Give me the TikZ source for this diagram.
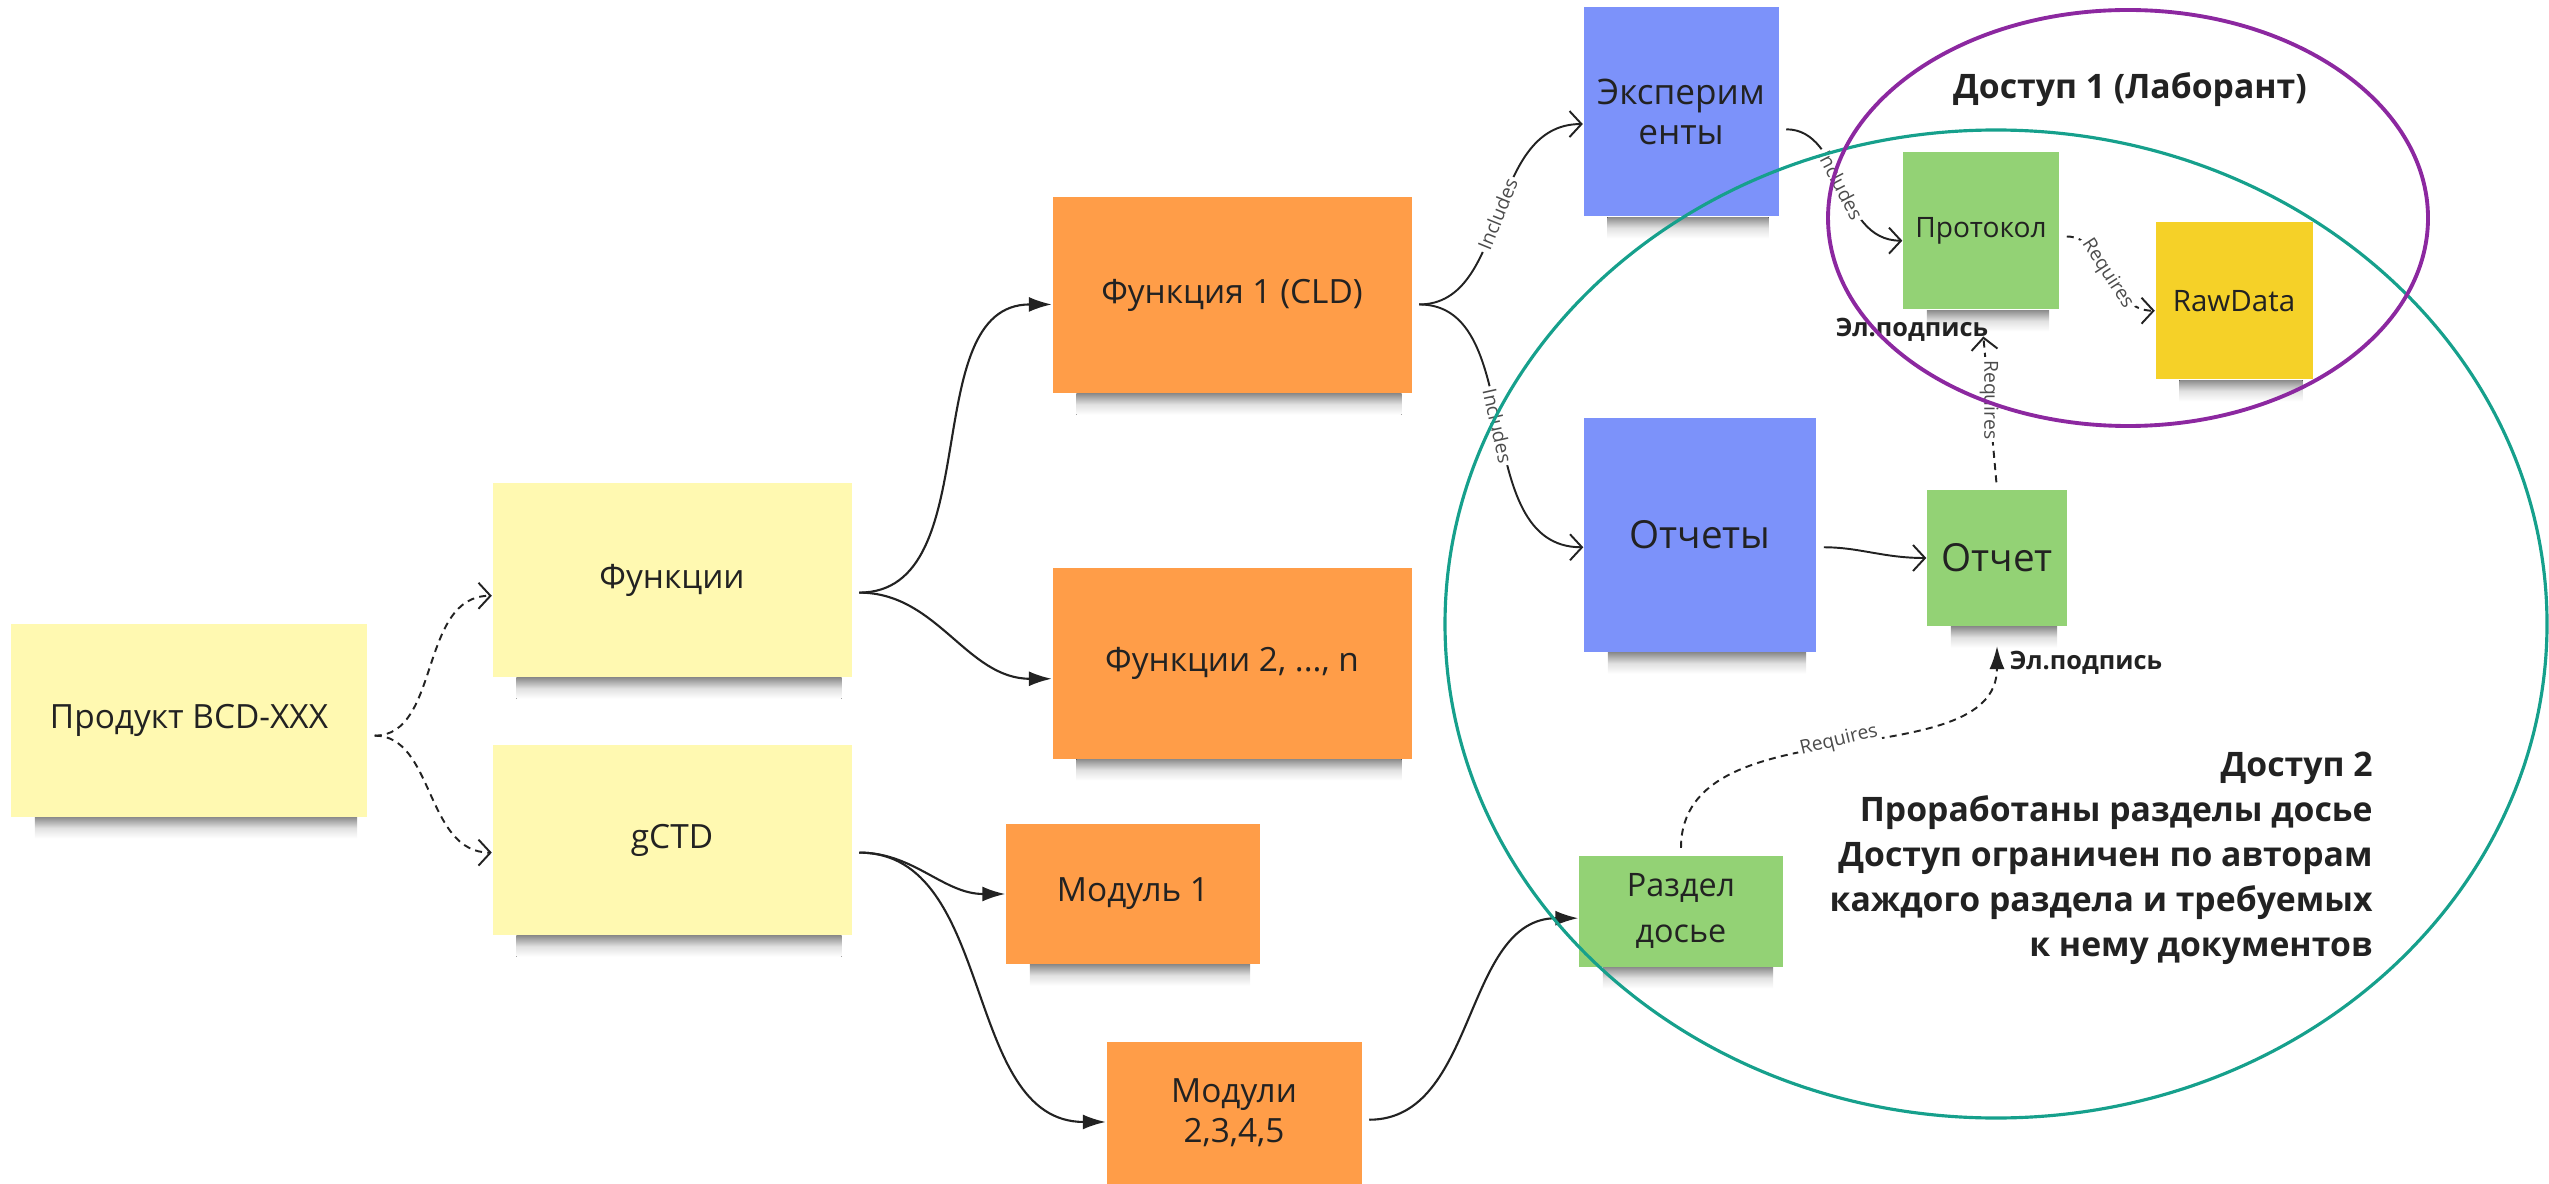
\documentclass[tikz,border=0pt]{standalone}
\usepackage{fontspec}
\setmainfont{Open Sans}
\usetikzlibrary{arrows.meta,backgrounds}

\definecolor{stickyyel}{RGB}{255,249,177}
\definecolor{stickyorg}{RGB}{255,157,72}
\definecolor{stickyblu}{RGB}{124,146,250}
\definecolor{stickygrn}{RGB}{147,210,117}
\definecolor{stickygold}{RGB}{245,209,40}
\definecolor{accpurple}{RGB}{140,40,160}
\definecolor{accteal}{RGB}{22,160,140}
\definecolor{inkdark}{RGB}{34,34,34}

\tikzset{
  sticky/.style={align=center, inner sep=2pt, text=inkdark},
  prodnote/.style={sticky, fill=stickyyel, font=\fontsize{9.5}{12}\selectfont},
  funcnote/.style={sticky, fill=stickyorg, font=\fontsize{9.5}{11.5}\selectfont},
  groupnote/.style={sticky, fill=stickyblu},
  docnote/.style={sticky, fill=stickygrn},
  datanote/.style={sticky, fill=stickygold},
  noteshade/.style={top color=black!45, bottom color=white, middle color=black!12},
  flow/.style={draw=inkdark, line width=.6pt, shorten <=2pt,
    -{Latex[length=2.3mm,width=1.5mm]}},
  incl/.style={draw=inkdark, line width=.55pt, shorten <=2pt,
    -{Straight Barb[length=1.2mm,width=2.6mm]}},
  req/.style={incl, dash pattern=on 2pt off 1.5pt},
  tag/.style={midway, fill=white, inner sep=.8pt, text=black!70,
    font=\fontsize{5.5}{6}\selectfont},
  sign/.style={font=\bfseries\fontsize{7.2}{8}\selectfont, text=inkdark},
  zonetitle/.style={font=\bfseries\fontsize{9.6}{12.8}\selectfont, text=inkdark,
    align=right},
}

\begin{document}
\begin{tikzpicture}
\useasboundingbox (0,0) rectangle (25.49,-11.84);

    % product and its two branches
    \node[prodnote, minimum width=3.56cm, minimum height=1.93cm] (prod) at (1.89,-7.20) {Продукт BCD-XXX};
    \node[prodnote, minimum width=3.59cm, minimum height=1.94cm] (funcs) at (6.72,-5.80) {Функции};
    \node[prodnote, minimum width=3.59cm, minimum height=1.90cm] (gctd) at (6.72,-8.40) {gCTD};

    % functions and modules
    \node[funcnote, minimum width=3.59cm, minimum height=1.96cm] (f1) at (12.32,-2.95) {Функция 1 (CLD)};
    \node[funcnote, minimum width=3.59cm, minimum height=1.91cm] (fn) at (12.32,-6.63) {Функции 2, ..., n};
    \node[funcnote, minimum width=2.54cm, minimum height=1.40cm] (mod1) at (11.33,-8.94) {Модуль 1};
    \node[funcnote, minimum width=2.55cm, minimum height=1.42cm] (mods) at (12.34,-11.13) {Модули\\2,3,4,5};

    % documents
    \node[groupnote, minimum width=1.95cm, minimum height=2.09cm, font=\fontsize{10}{11.4}\selectfont] (exp) at (16.81,-1.12) {Эксперим\\енты};
    \node[groupnote, minimum width=2.32cm, minimum height=2.34cm, font=\fontsize{11}{13}\selectfont] (reps) at (17.00,-5.35) {Отчеты};
    \node[docnote, minimum width=1.56cm, minimum height=1.57cm, font=\fontsize{8}{10}\selectfont] (prot) at (19.81,-2.31) {Протокол};
    \node[datanote, minimum width=1.57cm, minimum height=1.57cm, font=\fontsize{8.4}{10}\selectfont] (raw) at (22.34,-3.01) {RawData};
    \node[docnote, minimum width=1.40cm, minimum height=1.36cm, font=\fontsize{11}{13}\selectfont] (rep) at (19.97,-5.58) {Отчет};
    \node[docnote, minimum width=2.04cm, minimum height=1.11cm, font=\fontsize{9.2}{13.3}\selectfont] (razd) at (16.81,-9.11) {Раздел\\досье};

    % soft shadows under the notes
    \begin{scope}[on background layer]
    \foreach \n in {prod,funcs,gctd,f1,fn,mod1,mods,exp,reps,prot,raw,rep,razd}
        \fill[noteshade] ([xshift=7pt]\n.south west) rectangle ([xshift=-3pt,yshift=-6pt]\n.south east);
    \end{scope}

    % signatures and access notes
    \node[sign] (sig1) at (19.12,-3.30) {Эл.подпись};
    \node[sign] (sig2) at (20.86,-6.63) {Эл.подпись};
    \node[zonetitle] (zone1) at (21.30,-0.90) {Доступ 1 (Лаборант)};
    \node[zonetitle, anchor=east] (zone2) at (23.85,-8.58) {Доступ 2\\Проработаны разделы досье\\Доступ ограничен по авторам\\каждого раздела и требуемых\\к нему документов};

    % connectors
    \draw[req] (prod.-5) to[out=0,in=180] (funcs.185);
    \draw[req] (prod.-5) to[out=0,in=180] (gctd.184);
    \draw[flow] (funcs.-4) to[out=0,in=180] (f1.183);
    \draw[flow] (funcs.-4) to[out=0,in=180] (fn.185);
    \draw[flow] (gctd.-4) to[out=0,in=180] (mod1.west);
    \draw[flow] (gctd.-4) to[out=0,in=180] (mods.184);
    \draw[flow] (mods.-3) to[out=0,in=180] (razd.184);
    \draw[incl] (f1.-3) to[out=0,in=180] node[tag, sloped] {Includes} (exp.187);
    \draw[incl] (f1.-3) to[out=0,in=180] node[tag, sloped] {Includes} (reps.186);
    \draw[incl] (exp.-10) to[out=0,in=180] node[tag, sloped] {Includes} (prot.187);
    \draw[incl] (reps.-6) to[out=0,in=180] (rep.west);
    \draw[req] (prot.-4) to[out=0,in=180] node[tag, sloped] {Requires} (raw.187);
    \draw[req, shorten >=7.5pt] (rep.north) -- node[tag, rotate=-90] {Requires} (prot.south);
    \draw[req, -{Latex[length=2.3mm,width=1.5mm]}, shorten >=5.5pt] (razd.north) to[out=90,in=-90] node[tag, sloped] {Requires} (rep.south);

    % access zones
    \draw[accteal, line width=.9pt] (19.96,-6.24) ellipse (5.51 and 4.94);
    \draw[accpurple, line width=1.1pt] (21.28,-2.18) ellipse (3.00 and 2.08);

\end{tikzpicture}
\end{document}
